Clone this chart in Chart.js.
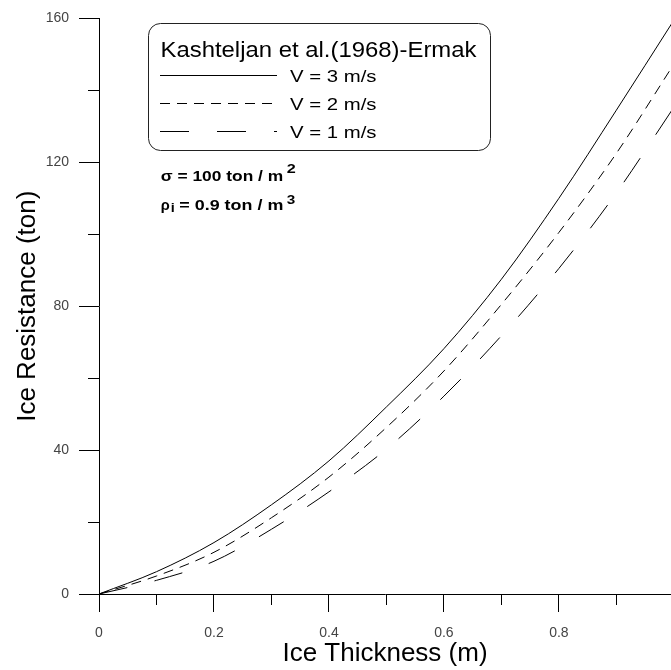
<!DOCTYPE html>
<html>
<head>
<meta charset="utf-8">
<script src="https://cdn.jsdelivr.net/npm/chart.js@4.4.1/dist/chart.umd.min.js"></script>
<style>
html, body { margin: 0; padding: 0; background: #fff; overflow: hidden; }
#chart { display: block; }
</style>
</head>
<body>
<canvas id="chart" width="671" height="670"></canvas>
<script>
// Ice thickness (m) where the curves were read
const thickness = [0, 0.1, 0.2, 0.3, 0.4, 0.5, 0.6, 0.7, 0.8, 0.9, 1.0];
// Ice resistance (ton) for each ship speed
const resistV3 = [0, 6.2, 14.3, 24.8, 37.0, 52.0, 68.2, 87.5, 110.0, 134.5, 159.5];
const resistV2 = [0, 5.0, 11.6, 21.2, 32.5, 46.3, 62.0, 80.5, 100.5, 122.5, 147.3];
const resistV1 = [0, 3.8, 9.1, 18.0, 28.4, 40.3, 55.0, 71.8, 90.5, 111.5, 135.3];

// Axis ticks
const xTicks = [0, 0.2, 0.4, 0.6, 0.8];
const xMinorTicks = [0.1, 0.3, 0.5, 0.7, 0.9];
const yTicks = [0, 40, 80, 120, 160];
const yMinorTicks = [20, 60, 100, 140];

// Text
const legendTitle = 'Kashteljan et al.(1968)-Ermak';
const seriesLabels = ['V = 3 m/s', 'V = 2 m/s', 'V = 1 m/s'];

const FONT = '"Liberation Sans", Arial, sans-serif';

function toPoints(ys) {
    return thickness.map((x, i) => ({ x: x, y: ys[i] }));
}

// the original text is a bit wider than Arial, so squeeze/stretch to width
function drawFit(ctx, text, x, y, width, font) {
    ctx.save();
    ctx.font = font;
    const w = ctx.measureText(text).width;
    ctx.translate(x, y);
    ctx.scale(width / w, 1);
    ctx.fillText(text, 0, 0);
    ctx.restore();
}

// Short ticks between the labelled ones
const minorTicksPlugin = {
    id: 'minorTicks',
    afterDraw(chart) {
        const ctx = chart.ctx;
        const xs = chart.scales.x;
        const ys = chart.scales.y;
        const area = chart.chartArea;
        ctx.save();
        ctx.strokeStyle = '#000';
        ctx.lineWidth = 1;
        ctx.beginPath();
        xMinorTicks.forEach(v => {
            const px = Math.round(xs.getPixelForValue(v)) + 0.5;
            ctx.moveTo(px, area.bottom);
            ctx.lineTo(px, area.bottom + 11);
        });
        yMinorTicks.forEach(v => {
            const py = Math.round(ys.getPixelForValue(v)) + 0.5;
            ctx.moveTo(area.left - 11, py);
            ctx.lineTo(area.left, py);
        });
        ctx.stroke();
        ctx.restore();
    }
};

// Rounded legend box and the two parameter notes
const overlayPlugin = {
    id: 'overlay',
    afterDraw(chart) {
        const ctx = chart.ctx;
        ctx.save();

        // box
        ctx.strokeStyle = '#222';
        ctx.lineWidth = 1;
        ctx.beginPath();
        ctx.roundRect(148.5, 23.5, 342, 127, 12);
        ctx.stroke();

        ctx.fillStyle = '#000';
        ctx.textBaseline = 'alphabetic';
        ctx.textAlign = 'left';

        drawFit(ctx, legendTitle, 160.5, 56.5, 316, '22px ' + FONT);

        const rowY = [75.5, 103.5, 131.5];
        chart.data.datasets.forEach((ds, i) => {
            ctx.save();
            ctx.strokeStyle = ds.borderColor;
            ctx.lineWidth = ds.borderWidth;
            ctx.setLineDash(ds.borderDash || []);
            ctx.beginPath();
            ctx.moveTo(160, rowY[i]);
            ctx.lineTo(277, rowY[i]);
            ctx.stroke();
            ctx.restore();
            drawFit(ctx, seriesLabels[i], 290, rowY[i] + 6, 86.5, '17px ' + FONT);
        });

        // sigma note
        drawFit(ctx, '\u03C3 = 100 ton / m', 160.7, 181, 122.5, 'bold 15.5px ' + FONT);
        drawFit(ctx, '2', 286.7, 172.5, 9, 'bold 12px ' + FONT);

        // rho note
        drawFit(ctx, '\u03C1', 160.7, 209.5, 9, 'bold 15.5px ' + FONT);
        drawFit(ctx, 'i', 170.7, 211.5, 4, 'bold 12px ' + FONT);
        drawFit(ctx, '= 0.9 ton / m', 179.3, 209.5, 104, 'bold 15.5px ' + FONT);
        drawFit(ctx, '3', 286.7, 203.5, 8.5, 'bold 12px ' + FONT);

        ctx.restore();
    }
};

new Chart(document.getElementById('chart'), {
    type: 'line',
    data: {
        datasets: [
            {
                label: seriesLabels[0],
                data: toPoints(resistV3),
                borderColor: '#000',
                borderWidth: 1,
                borderDash: [],
                pointRadius: 0,
                cubicInterpolationMode: 'monotone'
            },
            {
                label: seriesLabels[1],
                data: toPoints(resistV2),
                borderColor: '#000',
                borderWidth: 1,
                borderDash: [10, 7],
                pointRadius: 0,
                cubicInterpolationMode: 'monotone'
            },
            {
                label: seriesLabels[2],
                data: toPoints(resistV1),
                borderColor: '#000',
                borderWidth: 1,
                borderDash: [29, 28],
                pointRadius: 0,
                cubicInterpolationMode: 'monotone'
            }
        ]
    },
    options: {
        responsive: false,
        animation: false,
        devicePixelRatio: 1,
        layout: { padding: { top: 17, right: 0, left: 0, bottom: 0 } },
        plugins: {
            legend: { display: false },
            tooltip: { enabled: false }
        },
        scales: {
            x: {
                type: 'linear',
                min: 0,
                max: 0.995,
                afterBuildTicks: scale => {
                    scale.ticks = xTicks.map(v => ({ value: v }));
                },
                afterFit: scale => { scale.height = 76; },
                ticks: {
                    color: '#444',
                    padding: 13,
                    font: { family: FONT, size: 14 },
                    callback: v => String(v),
                    maxRotation: 0
                },
                grid: {
                    drawOnChartArea: false,
                    tickLength: 18,
                    color: '#000'
                },
                border: { display: true, color: '#000' },
                title: {
                    display: true,
                    text: 'Ice Thickness (m)',
                    color: '#000',
                    font: { family: FONT, size: 26 },
                    padding: { top: 0, bottom: 1 }
                }
            },
            y: {
                type: 'linear',
                min: 0,
                max: 160,
                afterBuildTicks: scale => {
                    scale.ticks = yTicks.map(v => ({ value: v }));
                },
                afterFit: scale => { scale.width = 99; },
                ticks: {
                    color: '#444',
                    padding: 10,
                    font: { family: FONT, size: 14 }
                },
                grid: {
                    drawOnChartArea: false,
                    tickLength: 20,
                    color: '#000'
                },
                border: { display: true, color: '#000' },
                title: {
                    display: true,
                    text: 'Ice Resistance (ton)',
                    color: '#000',
                    font: { family: FONT, size: 26 },
                    padding: { top: 12, bottom: 0 }
                }
            }
        }
    },
    plugins: [minorTicksPlugin, overlayPlugin]
});
</script>
</body>
</html>
